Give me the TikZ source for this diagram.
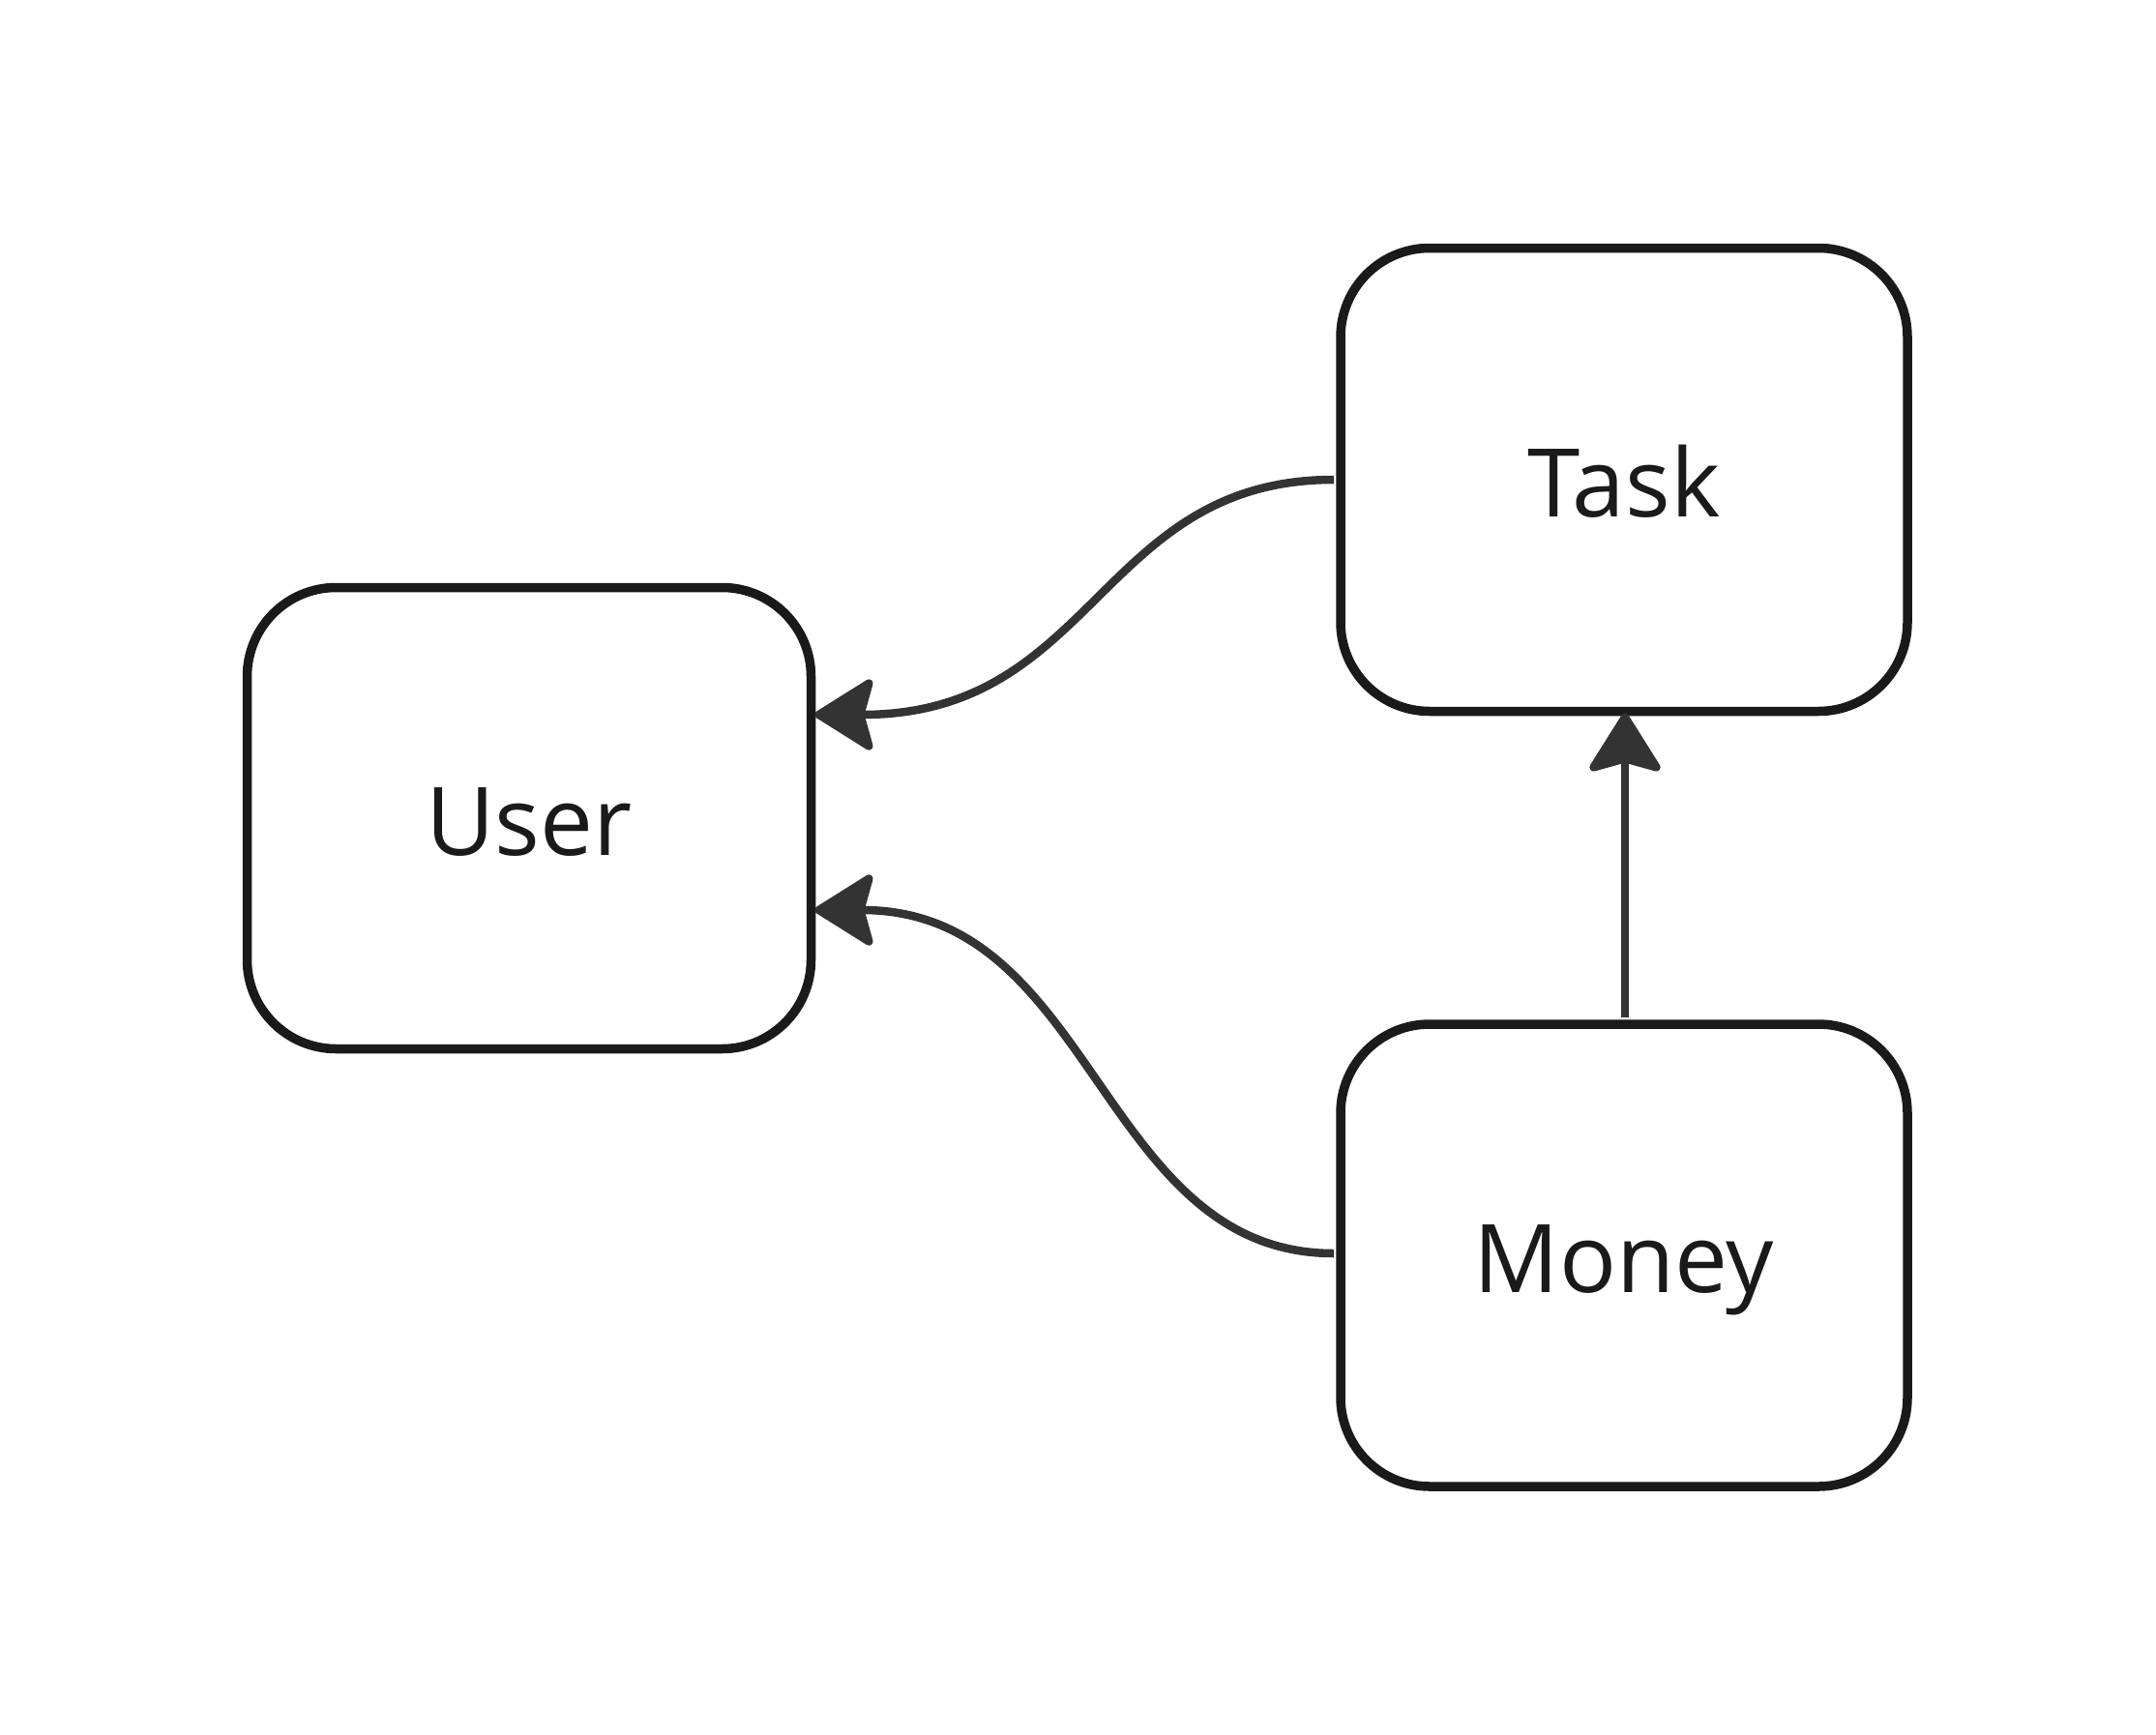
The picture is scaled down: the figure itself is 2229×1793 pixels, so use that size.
\documentclass[tikz,border=0pt]{standalone}
\usepackage{fontspec}
\setmainfont{Open Sans}
\usetikzlibrary{arrows.meta,calc}
\definecolor{boxline}{HTML}{1A1A1A}
\definecolor{connline}{HTML}{333333}
\tikzset{
  entity/.style={draw=boxline, line width=9.5pt, rounded corners=92pt, fill=white,
    text=boxline, font=\fontsize{98}{118}\selectfont, text height=76pt, text depth=0pt,
    inner sep=0pt, outer sep=0pt},
  conn/.style={draw=connline, line width=8.5pt,
    -{Stealth[length=66pt,width=82pt,inset=11pt,round]}},
}
\begin{document}
\begin{tikzpicture}[x=1pt,y=-1pt]
\fill[white] (0,0) rectangle (2229,1793);
\useasboundingbox (0,0) rectangle (2229,1793);
\node[entity, minimum width=583pt, minimum height=477pt] (user) at (547,846) {User};
\node[entity, minimum width=586pt, minimum height=479pt] (task) at (1679,496) {Task};
\node[entity, minimum width=586pt, minimum height=478pt] (money) at (1679,1298) {Money};
\draw[conn] ($(task.west)+(-7,0)$) .. controls +(-242,0) and +(290,0) .. ($(user.east)+(4,-107)$);
\draw[conn] ($(money.west)+(-7,-2)$) .. controls +(-242,0) and +(290,0) .. ($(user.east)+(4,95)$);
\draw[conn] ($(money.north)+(1,-7)$) -- ($(task.south)+(1,2)$);
\end{tikzpicture}
\end{document}
